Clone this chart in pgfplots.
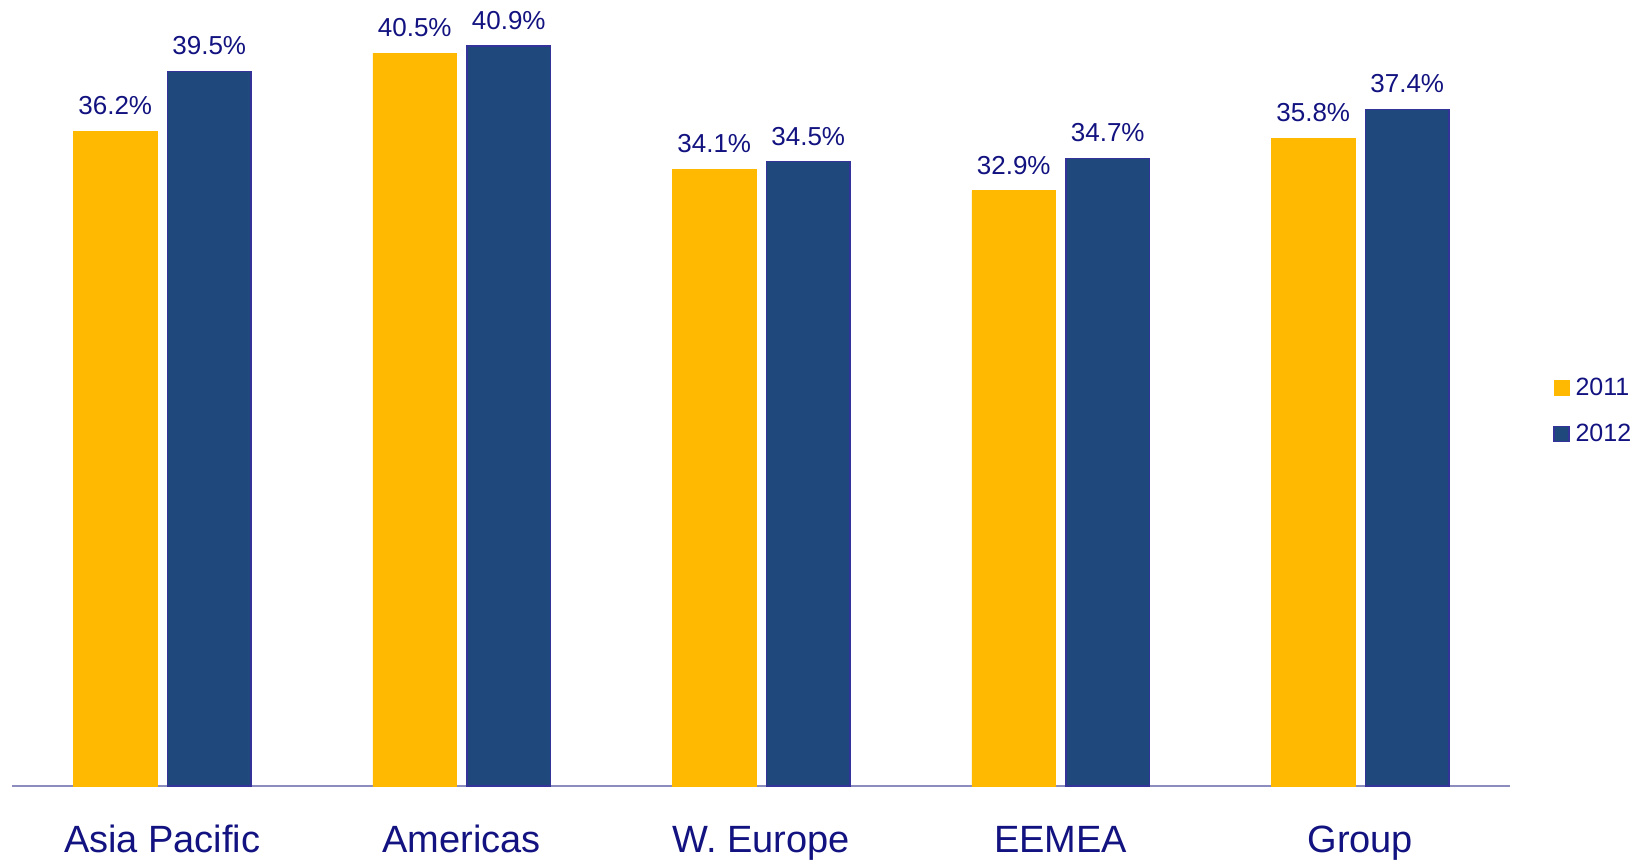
\documentclass[border=0pt]{standalone}
\usepackage{pgfplots}
\pgfplotsset{compat=1.18}
\usepackage{fontspec}
\setmainfont{Liberation Sans}
\definecolor{cyel}{RGB}{255,185,0}
\definecolor{cblue}{RGB}{31,73,125}
\definecolor{cedge}{RGB}{51,51,153}
\definecolor{ctext}{RGB}{18,18,128}
\definecolor{caxis}{RGB}{140,140,190}
\begin{document}
\begin{tikzpicture}
\useasboundingbox (-6.25pt,-38pt) rectangle (813.25pt,393pt);
\begin{axis}[
  at={(0,0)}, anchor=south west,
  scale only axis, width=748.75pt, height=389pt,
  xmin=-0.5, xmax=4.5, ymin=0, ymax=43,
  axis x line*=bottom, axis y line=none,
  x axis line style={draw=caxis, line width=0.75pt, -},
  xtick={0,...,4},
  xticklabels={Asia Pacific, Americas, W. Europe, EEMEA, Group},
  major tick length=0pt,
  xticklabel style={font=\fontsize{19}{23}\selectfont, text=ctext, anchor=base, inner sep=0pt, yshift=-33.2pt},
  /pgf/number format/assume math mode=true,
  ybar, bar width=41.8pt,
  nodes near coords={\pgfmathprintnumber[fixed,precision=1,fixed zerofill]{\pgfplotspointmeta}\%},
  every node near coord/.append style={font=\fontsize{13}{15}\selectfont, text=ctext, anchor=base, inner sep=0pt, yshift=8.2pt},
  legend style={at={(1.0287,0.482)}, anchor=west, draw=none, fill=none,
    font=\fontsize{12.5}{15}\selectfont, text=ctext, inner sep=0pt, row sep=12.7pt,
    nodes={inner sep=0pt, anchor=west},
    /tikz/every odd column/.style={column sep=3pt}},
  legend cell align=left,
  legend image code/.code={\fill[#1] (0pt,-3.75pt) rectangle (7.5pt,3.75pt);},
  clip=false,
]
\addplot[bar shift=-23.5pt, fill=cyel, draw=cyel, line width=0.4pt] coordinates {(0,36.2) (1,40.5) (2,34.1) (3,32.9) (4,35.8)};
\addplot[bar shift=23.5pt, fill=cblue, draw=cedge, line width=0.6pt] coordinates {(0,39.5) (1,40.9) (2,34.5) (3,34.7) (4,37.4)};
\legend{2011,2012}
\end{axis}
\end{tikzpicture}
\end{document}
